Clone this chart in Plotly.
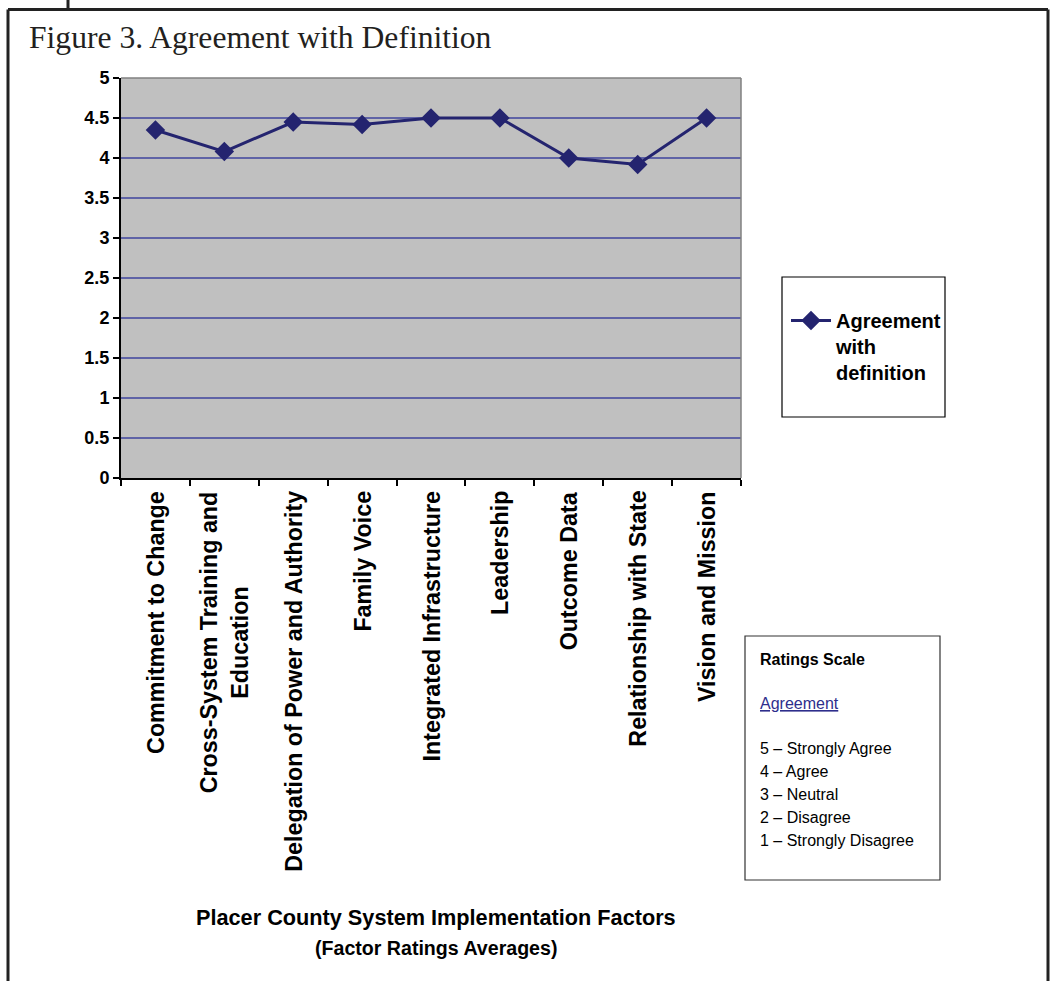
import plotly.graph_objects as go

# Factor names and their average agreement ratings
categories = [
    "Commitment to Change",
    "Cross-System Training and<br>Education",
    "Delegation of Power and Authority",
    "Family Voice",
    "Integrated Infrastructure",
    "Leadership",
    "Outcome Data",
    "Relationship with State",
    "Vision and Mission",
]
agreement = [4.35, 4.08, 4.45, 4.42, 4.5, 4.5, 4.0, 3.92, 4.5]

y_tickvals = [0, 0.5, 1, 1.5, 2, 2.5, 3, 3.5, 4, 4.5, 5]

scale_title = "Ratings Scale"
scale_heading = "Agreement"
scale_lines = [
    "5 – Strongly Agree",
    "4 – Agree",
    "3 – Neutral",
    "2 – Disagree",
    "1 – Strongly Disagree",
]

FIG_W, FIG_H = 1050, 981
L, R, T, B = 121, 741, 78, 478
PW, PH = R - L, B - T

SANS = "Liberation Sans, Arial, sans-serif"
SERIF = "Liberation Serif, Times New Roman, serif"
NAVY = "#24246F"
GRID = "#5F63A6"


def X(px):
    return (px - L) / PW


def Y(py):
    return (B - py) / PH


fig = go.Figure()
fig.add_trace(go.Scatter(
    x=categories, y=agreement, mode="lines+markers",
    name="<b>Agreement<br>with<br>definition</b>",
    line=dict(color=NAVY, width=3),
    marker=dict(symbol="diamond", size=15, color=NAVY),
))

shapes = []
frame = dict(color="#222222", width=3)
# page frame around the figure
shapes.append(dict(type="line", xref="paper", yref="paper",
                   x0=X(8), x1=X(8), y0=Y(9.5), y1=Y(990), line=frame))
shapes.append(dict(type="line", xref="paper", yref="paper",
                   x0=X(8), x1=X(1048), y0=Y(9.5), y1=Y(9.5), line=frame))
shapes.append(dict(type="line", xref="paper", yref="paper",
                   x0=X(1048), x1=X(1048), y0=Y(9.5), y1=Y(990), line=frame))
shapes.append(dict(type="line", xref="paper", yref="paper",
                   x0=X(68), x1=X(68), y0=Y(-5), y1=Y(9.5), line=frame))
# plot area top/right border
shapes.append(dict(type="line", xref="paper", yref="paper",
                   x0=0, x1=1, y0=1, y1=1, line=dict(color="#808080", width=1.5)))
shapes.append(dict(type="line", xref="paper", yref="paper",
                   x0=1, x1=1, y0=0, y1=1, line=dict(color="#808080", width=1.5)))
# legend box
shapes.append(dict(type="rect", xref="paper", yref="paper",
                   x0=X(782), x1=X(945), y0=Y(417), y1=Y(277),
                   line=dict(color="#000000", width=1.2)))
# ratings scale box
shapes.append(dict(type="rect", xref="paper", yref="paper",
                   x0=X(745), x1=X(940), y0=Y(880), y1=Y(636),
                   line=dict(color="#333333", width=1.2)))

annotations = []
# category labels, rotated, hanging below the x axis
for cat in categories:
    annotations.append(dict(
        text="<b>" + cat + "</b>", xref="x", yref="paper",
        x=cat, y=Y(489), xanchor="center", yanchor="top",
        textangle=-90, align="center", showarrow=False,
        font=dict(family=SANS, size=23.3, color="#000000")))

annotations.append(dict(
    text="Figure 3. Agreement with Definition", xref="paper", yref="paper",
    x=X(27), y=Y(38), xanchor="left", yanchor="middle", showarrow=False,
    font=dict(family=SERIF, size=31.6, color="#231F20")))
annotations.append(dict(
    text="<b>Placer County System Implementation Factors</b>",
    xref="paper", yref="paper", x=X(436), y=Y(917),
    xanchor="center", yanchor="middle", showarrow=False,
    font=dict(family=SANS, size=21.7, color="#000000")))
annotations.append(dict(
    text="<b>(Factor Ratings Averages)</b>",
    xref="paper", yref="paper", x=X(436), y=Y(948),
    xanchor="center", yanchor="middle", showarrow=False,
    font=dict(family=SANS, size=19.6, color="#000000")))
annotations.append(dict(
    text="<b>" + scale_title + "</b>", xref="paper", yref="paper",
    x=X(758), y=Y(659), xanchor="left", yanchor="middle", showarrow=False,
    font=dict(family=SANS, size=16, color="#000000")))
annotations.append(dict(
    text="<u>" + scale_heading + "</u>", xref="paper", yref="paper",
    x=X(758), y=Y(703), xanchor="left", yanchor="middle", showarrow=False,
    font=dict(family=SANS, size=16, color="#2E2E8C")))
for i, line in enumerate(scale_lines):
    annotations.append(dict(
        text=line, xref="paper", yref="paper",
        x=X(758), y=Y(748 + i * 23.2), xanchor="left", yanchor="middle",
        showarrow=False, font=dict(family=SANS, size=16, color="#000000")))

fig.update_layout(
    width=FIG_W, height=FIG_H,
    margin=dict(l=L, r=FIG_W - R, t=T, b=FIG_H - B, autoexpand=False),
    paper_bgcolor="white",
    plot_bgcolor="#C0C0C0",
    showlegend=True,
    legend=dict(
        x=X(786), y=Y(301), xanchor="left", yanchor="top",
        bgcolor="rgba(0,0,0,0)", borderwidth=0, valign="top",
        font=dict(family=SANS, size=20, color="#000000"),
        itemwidth=40,
    ),
    shapes=shapes,
    annotations=annotations,
)

fig.update_xaxes(
    type="category", tickson="boundaries", range=[-0.5, len(categories) - 0.5],
    ticks="outside", ticklen=6, tickwidth=2, tickcolor="#000000",
    showline=True, linecolor="#000000", linewidth=2,
    showgrid=False, showticklabels=False,
)
fig.update_yaxes(
    range=[0, 5], tickvals=y_tickvals,
    ticktext=[f"{v:g}" for v in y_tickvals],
    ticks="outside", ticklen=6, tickwidth=2, tickcolor="#000000",
    showline=True, linecolor="#000000", linewidth=2,
    showgrid=True, gridcolor=GRID, gridwidth=1.5, zeroline=False,
    tickfont=dict(family=SANS, size=18, color="#000000", weight="bold"),
)

fig.write_html("out.html")
